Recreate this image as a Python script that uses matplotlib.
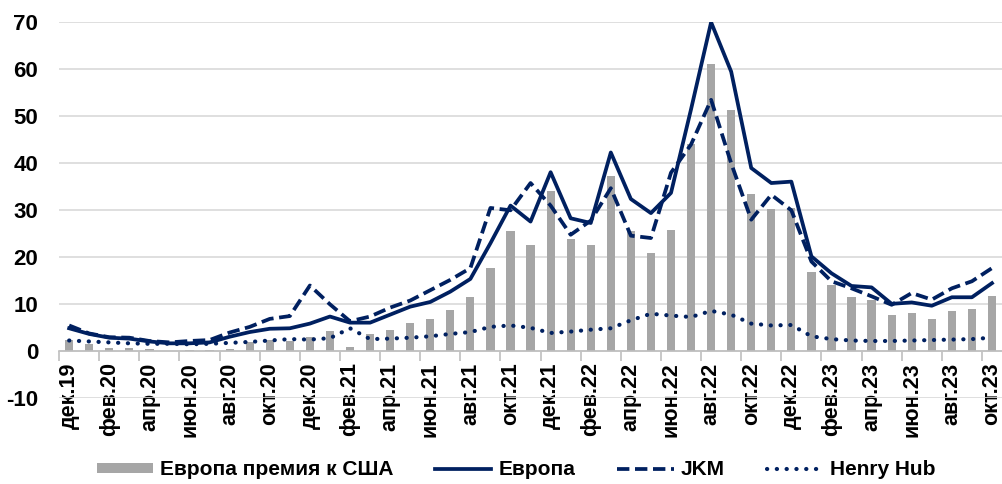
import numpy as np
import matplotlib
matplotlib.use('Agg')
import matplotlib.pyplot as plt

plt.rcParams['font.family'] = ['Liberation Sans', 'DejaVu Sans']
plt.rcParams['font.weight'] = 'bold'
plt.rcParams['axes.unicode_minus'] = False

months = ['дек.19', 'янв.20', 'фев.20', 'мар.20', 'апр.20', 'май.20', 'июн.20', 'июл.20',
          'авг.20', 'сен.20', 'окт.20', 'ноя.20', 'дек.20', 'янв.21', 'фев.21', 'мар.21',
          'апр.21', 'май.21', 'июн.21', 'июл.21', 'авг.21', 'сен.21', 'окт.21', 'ноя.21',
          'дек.21', 'янв.22', 'фев.22', 'мар.22', 'апр.22', 'май.22', 'июн.22', 'июл.22',
          'авг.22', 'сен.22', 'окт.22', 'ноя.22', 'дек.22', 'янв.23', 'фев.23', 'мар.23',
          'апр.23', 'май.23', 'июн.23', 'июл.23', 'авг.23', 'сен.23', 'окт.23']

# premium of Europe over US (bars)
premium = [2.4, 1.6, 0.8, 0.8, 0.5, 0.1, 0.2, 0.2, 0.4, 2.0, 2.4, 2.3,
           3.0, 4.4, 0.9, 3.6, 4.5, 6.1, 6.9, 8.8, 11.5, 17.7, 25.5, 22.7,
           34.2, 23.9, 22.7, 37.4, 25.6, 21.0, 25.9, 44.1, 61.2, 51.3, 33.4, 30.3,
           30.5, 16.9, 14.1, 11.5, 11.0, 7.8, 8.1, 6.9, 8.5, 9.0, 11.7]

europe = [4.9, 3.7, 2.9, 2.7, 2.1, 1.7, 1.7, 1.9, 3.1, 4.1, 4.8, 4.9,
          5.9, 7.4, 6.1, 6.1, 7.8, 9.5, 10.5, 12.7, 15.4, 23.0, 31.0, 27.6,
          38.1, 28.3, 27.3, 42.3, 32.4, 29.4, 33.7, 51.5, 70.0, 59.5, 39.0, 35.8,
          36.1, 20.2, 16.6, 13.9, 13.6, 10.1, 10.4, 9.7, 11.5, 11.5, 14.5]

jkm = [5.5, 3.8, 3.0, 2.9, 2.2, 1.9, 2.2, 2.4, 4.0, 5.2, 6.9, 7.5,
       14.0, 10.0, 6.4, 7.4, 9.3, 10.8, 13.0, 15.2, 17.7, 30.5, 30.0, 35.8,
       31.0, 24.8, 27.8, 34.7, 24.6, 24.1, 38.0, 44.0, 53.5, 40.0, 28.0, 33.3,
       30.0, 19.1, 14.9, 13.4, 11.7, 9.9, 12.4, 11.0, 13.4, 14.9, 17.7]

henry_hub = [2.3, 2.1, 1.9, 1.7, 1.6, 1.6, 1.5, 1.6, 1.8, 2.0, 2.3, 2.6,
             2.5, 2.8, 4.9, 2.6, 2.7, 2.9, 3.2, 3.7, 4.1, 5.2, 5.5, 5.0,
             3.9, 4.2, 4.6, 4.9, 6.6, 8.0, 7.6, 7.3, 8.6, 7.8, 5.9, 5.5,
             5.6, 3.2, 2.6, 2.3, 2.2, 2.2, 2.3, 2.4, 2.5, 2.6, 2.9]

navy = '#002060'
x = np.arange(len(months))

fig = plt.figure(figsize=(10.02, 4.84), dpi=100)
ax = fig.add_axes([0.059, 0.177, 0.941, 0.777])

bars = ax.bar(x, premium, width=0.41, color='#a6a6a6', label='Европа премия к США', zorder=2)
l1, = ax.plot(x, europe, color=navy, lw=2.7, label='Европа', zorder=3)
l2, = ax.plot(x, jkm, color=navy, lw=2.7, dashes=(3.3, 1.5), label='JKM', zorder=3)
l3, = ax.plot(x, henry_hub, color=navy, lw=3.0, dashes=(0.05, 2.3), dash_capstyle='round',
              label='Henry Hub', zorder=3)

ax.set_xlim(-0.5, len(months) - 0.5)
ax.set_ylim(-10, 70)
ax.set_yticks(range(-10, 71, 10))
ax.grid(axis='y', color='#d9d9d9', lw=1.2, zorder=0)
ax.set_axisbelow(True)

for s in ['top', 'right', 'left']:
    ax.spines[s].set_visible(False)
ax.spines['bottom'].set_position(('data', 0))
ax.spines['bottom'].set_color('#bfbfbf')
ax.spines['bottom'].set_linewidth(1.2)

ax.set_xticks(x[::2])
ax.set_xticklabels(months[::2], rotation=90, fontsize=15.5, fontweight='bold', va='top')
ax.set_xticks(np.arange(-0.5, len(months), 2), minor=True)
ax.tick_params(axis='x', which='major', length=0, pad=8)
ax.tick_params(axis='x', which='minor', length=7, color='#bfbfbf', width=1.2)
ax.tick_params(axis='y', length=0, pad=15, labelsize=16)
for t in ax.get_yticklabels():
    t.set_fontweight('bold')

fig.legend([bars, l1, l2, l3], [h.get_label() for h in (bars, l1, l2, l3)],
           loc='center', bbox_to_anchor=(0.515, 0.029), ncol=4, frameon=False,
           prop={'size': 15, 'weight': 'bold'}, handlelength=2.7, handletextpad=0.35,
           columnspacing=2.0, handleheight=0.35)

fig.savefig('out.png', dpi=100)
